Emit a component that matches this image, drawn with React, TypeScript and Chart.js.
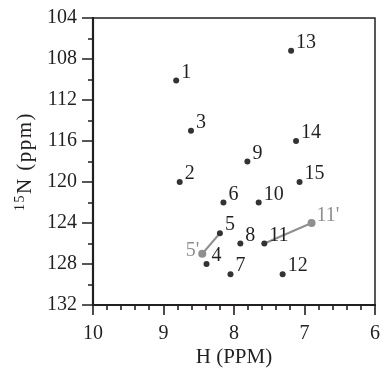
import React, { useEffect, useRef } from "react";
import { Chart, registerables } from "chart.js";

Chart.register(...registerables);

// Peak assignments (black)
const peakLabels = ["1", "2", "3", "4", "5", "6", "7", "8", "9", "10", "11", "12", "13", "14", "15"];
const hShift = [8.82, 8.77, 8.61, 8.39, 8.2, 8.15, 8.05, 7.91, 7.81, 7.65, 7.57, 7.31, 7.19, 7.12, 7.07];
const nShift = [110.1, 120.0, 115.0, 128.0, 125.0, 122.0, 129.0, 126.0, 118.0, 122.0, 126.0, 129.0, 107.2, 116.0, 120.0];

// Shifted peaks (gray)
const shiftedLabels = ["5'", "11'"];
const shiftedH = [8.45, 6.9];
const shiftedN = [127.0, 124.0];
const shiftedFrom = ["5", "11"];

// Axes
const xMajorTicks = [10, 9, 8, 7, 6];
const xMinorStep = 0.2;
const yMajorTicks = [104, 108, 112, 116, 120, 124, 128, 132];
const yMinorStep = 2;

const FONT = "'Liberation Serif', 'DejaVu Serif', serif";
const INK = "#231f20";
const GRAY = "#8f8f8f";

export default function App() {
  const ref = useRef<HTMLCanvasElement | null>(null);

  useEffect(() => {
    document.body.style.margin = "0";
    const canvas = ref.current;
    if (!canvas) return;

    const blackPts = hShift.map((x, i) => ({ x, y: nShift[i] }));
    const grayPts = shiftedH.map((x, i) => ({ x, y: shiftedN[i] }));
    const lines = shiftedLabels.map((_, i) => {
      const j = peakLabels.indexOf(shiftedFrom[i]);
      return {
        type: "scatter" as const,
        data: [
          { x: hShift[j], y: nShift[j] },
          { x: shiftedH[i], y: shiftedN[i] },
        ],
        showLine: true,
        borderColor: GRAY,
        borderWidth: 2,
        pointRadius: 0,
        order: 3,
      };
    });

    const decor = {
      id: "decor",
      afterDatasetsDraw(chart: any) {
        const { ctx, chartArea: a, scales } = chart;
        const xs = scales.x;
        const ys = scales.y;
        ctx.save();
        // frame
        ctx.strokeStyle = INK;
        ctx.lineWidth = 1.5;
        ctx.beginPath();
        ctx.moveTo(a.left, a.top);
        ctx.lineTo(a.right, a.top);
        ctx.lineTo(a.right, a.bottom);
        ctx.stroke();
        ctx.lineWidth = 2.2;
        ctx.beginPath();
        ctx.moveTo(a.left, a.top - 1);
        ctx.lineTo(a.left, a.bottom);
        ctx.lineTo(a.right + 1, a.bottom);
        ctx.stroke();
        // x ticks
        ctx.lineWidth = 1.6;
        ctx.beginPath();
        for (let v = 6; v <= 10.0001; v += xMinorStep) {
          const vv = Math.round(v * 10) / 10;
          const isMajor = xMajorTicks.includes(vv);
          const px = Math.round(xs.getPixelForValue(vv));
          ctx.moveTo(px, a.bottom);
          ctx.lineTo(px, a.bottom + (isMajor ? 10 : 5));
        }
        // y ticks
        for (let v = 104; v <= 132; v += yMinorStep) {
          const isMajor = yMajorTicks.includes(v);
          const py = Math.round(ys.getPixelForValue(v));
          ctx.moveTo(a.left, py);
          ctx.lineTo(a.left - (isMajor ? 11 : 5), py);
        }
        ctx.stroke();

        // point labels
        ctx.font = `20px ${FONT}`;
        ctx.textBaseline = "alphabetic";
        ctx.fillStyle = INK;
        ctx.textAlign = "left";
        peakLabels.forEach((lab, i) => {
          const px = xs.getPixelForValue(hShift[i]);
          const py = ys.getPixelForValue(nShift[i]);
          ctx.fillText(lab, px + 5, py - 3);
        });
        ctx.fillStyle = GRAY;
        shiftedLabels.forEach((lab, i) => {
          const px = xs.getPixelForValue(shiftedH[i]);
          const py = ys.getPixelForValue(shiftedN[i]);
          if (i === 0) {
            ctx.textAlign = "right";
            ctx.fillText(lab, px - 3, py + 2);
          } else {
            ctx.textAlign = "left";
            ctx.fillText(lab, px + 5, py - 2);
          }
        });

        // y title with superscript
        const cy = (a.top + a.bottom) / 2;
        ctx.translate(31, cy);
        ctx.rotate(-Math.PI / 2);
        ctx.fillStyle = INK;
        ctx.textAlign = "left";
        (ctx as any).letterSpacing = "1.5px";
        ctx.font = `14px ${FONT}`;
        const supW = ctx.measureText("15").width;
        ctx.font = `21px ${FONT}`;
        const mainW = ctx.measureText("N (ppm)").width;
        const total = supW + mainW;
        ctx.font = `14px ${FONT}`;
        ctx.fillText("15", -total / 2, -7);
        ctx.font = `21px ${FONT}`;
        ctx.fillText("N (ppm)", -total / 2 + supW, 0);
        ctx.restore();
      },
    };

    const chart = new Chart(canvas, {
      type: "scatter",
      data: {
        datasets: [
          {
            data: blackPts,
            backgroundColor: "#333333",
            borderWidth: 0,
            pointRadius: 3,
            order: 1,
          },
          {
            data: grayPts,
            backgroundColor: GRAY,
            borderWidth: 0,
            pointRadius: 4,
            order: 2,
          },
          ...lines,
        ] as any,
      },
      options: {
        animation: false,
        responsive: false,
        devicePixelRatio: 1,
        layout: { padding: { left: 0, top: 16, right: 5, bottom: 0 } },
        plugins: { legend: { display: false }, tooltip: { enabled: false } },
        scales: {
          x: {
            type: "linear",
            reverse: true,
            min: 6,
            max: 10,
            afterFit: (s: any) => {
              s.height = 65;
            },
            afterBuildTicks: (s: any) => {
              s.ticks = xMajorTicks.map((v) => ({ value: v }));
            },
            grid: { display: false, drawTicks: true, tickLength: 10 },
            border: { display: false },
            ticks: {
              color: INK,
              padding: 7,
              maxRotation: 0,
              font: { family: FONT, size: 20 },
            },
            title: {
              display: true,
              text: "H (PPM)",
              color: INK,
              font: { family: FONT, size: 21 },
              padding: { top: 0, bottom: 0 },
            },
          },
          y: {
            type: "linear",
            reverse: true,
            min: 104,
            max: 132,
            afterFit: (s: any) => {
              s.width = 93;
            },
            afterBuildTicks: (s: any) => {
              s.ticks = yMajorTicks.map((v) => ({ value: v }));
            },
            grid: { display: false, drawTicks: true, tickLength: 10 },
            border: { display: false },
            ticks: {
              color: INK,
              padding: 6,
              font: { family: FONT, size: 20 },
            },
          },
        },
      },
      plugins: [decor],
    });
    return () => chart.destroy();
  }, []);

  return (
    <div style={{ width: 387, height: 370, background: "#fff" }}>
      <canvas ref={ref} width={387} height={370} />
    </div>
  );
}
